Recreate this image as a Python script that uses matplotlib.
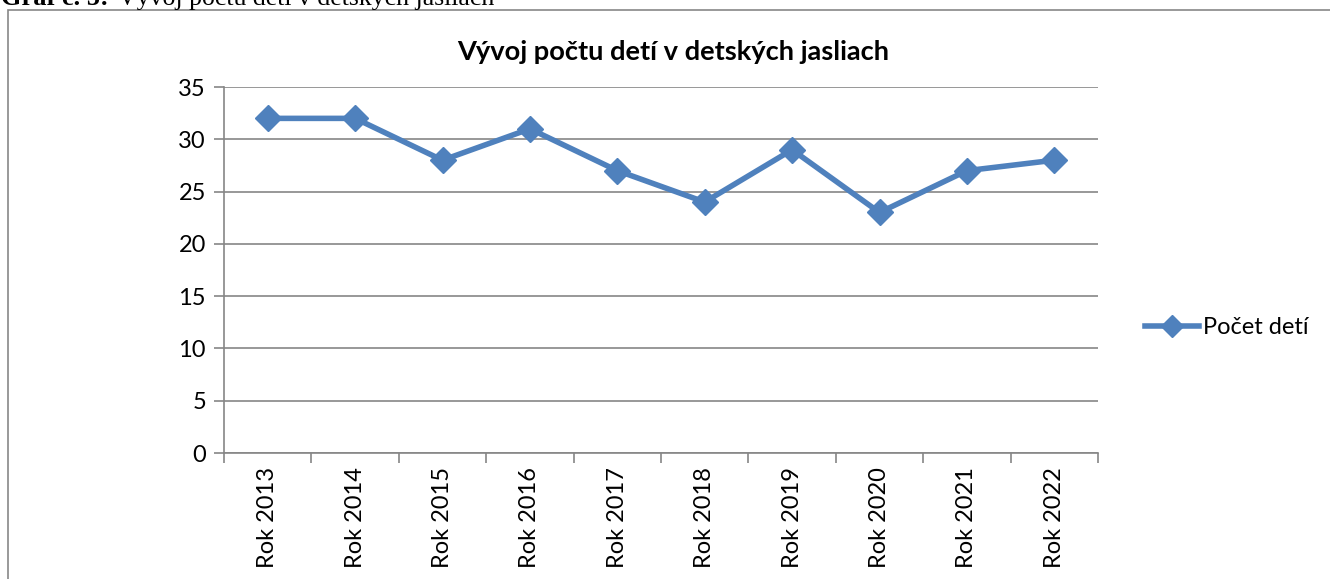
import matplotlib
matplotlib.use("Agg")
import matplotlib.pyplot as plt
from matplotlib.patches import Rectangle

categories = ["Rok 2013", "Rok 2014", "Rok 2015", "Rok 2016", "Rok 2017",
              "Rok 2018", "Rok 2019", "Rok 2020", "Rok 2021", "Rok 2022"]
values = [32, 32, 28, 31, 27, 24, 29, 23, 27, 28]
series_name = "Počet detí"
title = "Vývoj počtu detí v detských jasliach"
caption_bold = "Graf č. 5:"
caption_text = "Vývoj počtu detí v detských jasliach"
yticks = [0, 5, 10, 15, 20, 25, 30, 35]

W, H = 1330, 579
fig = plt.figure(figsize=(W / 100, H / 100), dpi=100)
plt.rcParams['font.family'] = ['Lato', 'DejaVu Sans']

# outer chart frame
fig.patches.append(Rectangle((8 / W, -0.05), 1.2, 1 - 10 / H + 0.05,
                             transform=fig.transFigure, fill=False,
                             edgecolor="#878787", linewidth=1.2))
# caption (partially cut at the top)
fig.text(1 / W, 1 - 5 / H, caption_bold, family="Liberation Serif",
         fontweight="bold", fontsize=19, va="baseline", ha="left")
fig.text(118 / W, 1 - 5 / H, caption_text,
         family="Liberation Serif", fontsize=18.5, va="baseline", ha="left")

ax = fig.add_axes([224 / W, 1 - 453 / H, (1098 - 224) / W, (453 - 87) / H])
x = list(range(len(categories)))
ax.plot(x, values, color="#4F81BD", linewidth=4, marker="D",
        markersize=13, label=series_name, solid_joinstyle="round")
ax.set_xlim(-0.5, len(categories) - 0.5)
ax.set_ylim(0, 35)
ax.set_yticks(yticks)
ax.set_yticklabels([str(v) for v in yticks], fontsize=17)
ax.set_xticks(x)
ax.set_xticklabels(categories, rotation=90, fontsize=17)
ax.set_xticks([i - 0.5 for i in range(len(categories) + 1)], minor=True)
ax.tick_params(axis="x", which="major", length=0, pad=10)
ax.tick_params(axis="x", which="minor", length=7, color="#868686", width=1.2)
ax.tick_params(axis="y", length=7, color="#868686", width=1.2, pad=6)
ax.grid(axis="y", color="#868686", linewidth=1.2)
ax.set_axisbelow(True)
for s in ["top", "right"]:
    ax.spines[s].set_visible(False)
for s in ["left", "bottom"]:
    ax.spines[s].set_color("#868686")
    ax.spines[s].set_linewidth(1.2)

fig.text(673.5 / W, 1 - 52 / H, title, fontsize=19.6, fontweight="bold",
         ha="center", va="center")

ax.legend(loc="center left", bbox_to_anchor=(1145 / W, 1 - 328 / H),
          bbox_transform=fig.transFigure, frameon=False, fontsize=17,
          handlelength=2.3, handletextpad=0.15, borderpad=0, borderaxespad=0,
          markerscale=0.85)

fig.savefig("out.png", dpi=100)
